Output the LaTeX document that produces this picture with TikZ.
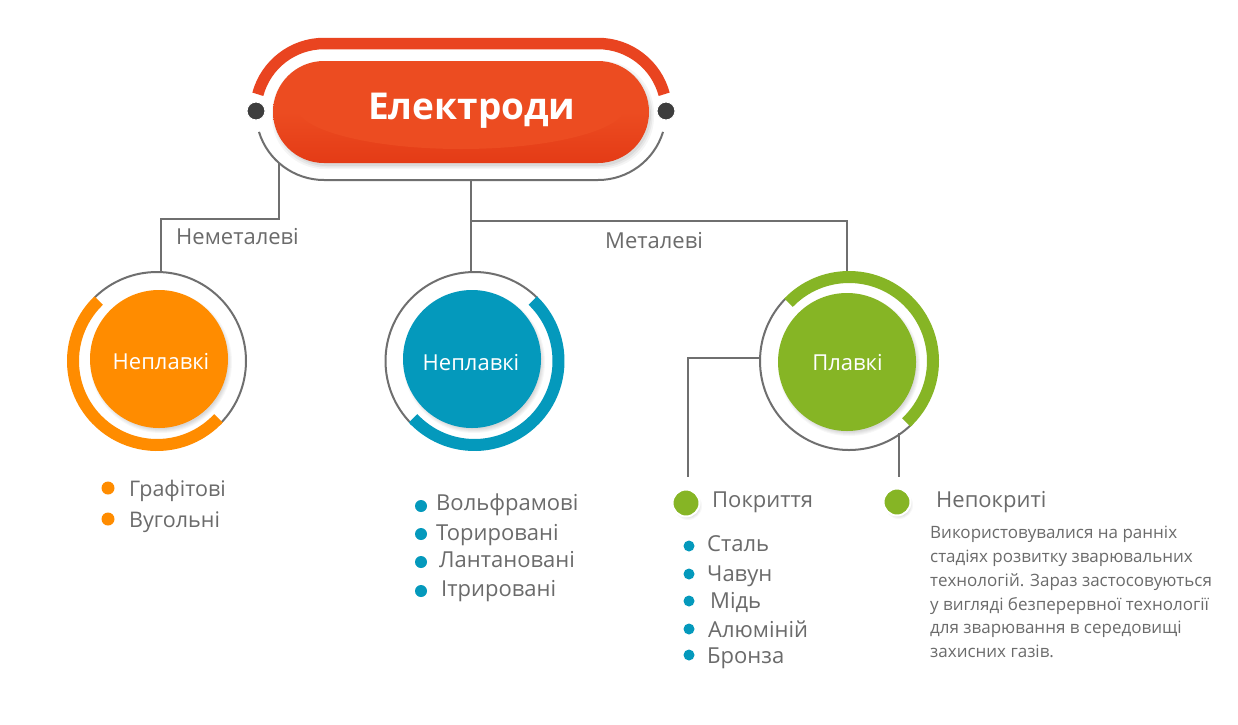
\documentclass[tikz,border=0pt]{standalone}
\usepackage{fontspec}
\setmainfont{Open Sans}
\usetikzlibrary{calc}
\definecolor{cline}{HTML}{6F6F6F}
\definecolor{ctext}{HTML}{6B6B6B}
\definecolor{credA}{HTML}{EC4C21}
\definecolor{credB}{HTML}{E43B16}
\definecolor{cred}{HTML}{E94420}
\definecolor{corange}{HTML}{FF8C00}
\definecolor{cblue}{HTML}{0499BC}
\definecolor{cgreen}{HTML}{86B525}
\definecolor{cdark}{HTML}{3D3D3D}
\tikzset{
  conn/.style={draw=cline,line width=2pt},
  bigdisc/.style={circle,minimum size=138pt,inner sep=0pt},
  disclab/.style={text=white,anchor=base,inner sep=0pt,font=\fontsize{22}{24}\selectfont},
  lab/.style={text=ctext,anchor=base west,inner sep=0pt,font=\fontsize{22}{26}\selectfont},
  bul/.style={circle,fill=cblue,minimum size=12pt,inner sep=0pt},
  bulo/.style={circle,fill=corange,minimum size=13pt,inner sep=0pt},
  greendot/.style={circle,fill=cgreen,draw=white,line width=2pt,minimum size=27pt,inner sep=0pt},
  band/.style={line width=12pt,line cap=butt},
  enddot/.style={circle,fill=cdark,draw=white,line width=1pt,minimum size=18pt,inner sep=0pt},
}
% soft shadow of a disc
\newcommand{\softshadow}[3]{%
  \foreach \k in {1,...,5}{\fill[black,opacity=0.03] ($(#1,#2)+(2pt,-3pt)$) circle[radius=#3pt+\k pt-3pt];}}
\begin{document}
\begin{tikzpicture}[x=1pt,y=-1pt]
\useasboundingbox (0,0) rectangle (1238,724);
\fill[white] (0,0) rectangle (1238,724);

% ---- connectors
\coordinate (pl) at (279,163);
\coordinate (pl2) at (279,219);
\coordinate (pl3) at (161,219);
\coordinate (ta) at (161,272);
\coordinate (pc) at (471,180);
\coordinate (tb) at (471,272);
\coordinate (br) at (471,221);
\coordinate (br2) at (847,221);
\coordinate (tc) at (847,272);
\coordinate (gl) at (760,358);
\coordinate (gl2) at (688,358);
\coordinate (gl3) at (688,477);
\coordinate (gr) at (899,433);
\coordinate (gr2) at (899,477);
\draw[conn] (pl) -- (pl2) -- (pl3) -- (ta);
\draw[conn] (pc) -- (tb);
\draw[conn] (br) -- (br2) -- (tc);
\draw[conn] (gl) -- (gl2) -- (gl3);
\draw[conn] (gr) -- (gr2);

% ---- top pill
\draw[cred,line width=11.5pt]
  ($(324,112)+(165:68.5pt)$) arc[start angle=165,end angle=90,radius=68.5pt]
  -- (598,43.5) arc[start angle=90,end angle=15,radius=68.5pt];
\draw[conn]
  ($(324,112)+(197:68pt)$) arc[start angle=197,end angle=270,radius=68pt]
  -- (598,180) arc[start angle=270,end angle=343,radius=68pt];
\foreach \o/\a in {3/0.04,1.5/0.05,0/0.06}
  \fill[black,opacity=\a,rounded corners=52pt] (273-\o+2,61-\o+3) rectangle (649+\o+2,163+\o+3);
\node[rounded corners=51pt,minimum width=376pt,minimum height=102pt,inner sep=0pt,
      top color=credA,bottom color=credB,middle color=credA] (pill) at (461,112) {};
\begin{scope}
  \clip[rounded corners=51pt] (273,61) rectangle (649,163);
  \fill[credA] (461,106) ellipse[x radius=165pt,y radius=43pt];
\end{scope}
\node[text=white,anchor=base west,inner sep=0pt,font=\fontsize{37}{40}\selectfont\bfseries] (title) at (368,119) {Електроди};
\node[enddot] (dl) at (256,111) {};
\node[enddot] (dr) at (666,111) {};

% ---- labels on branches
\node[lab] (lnm) at (176,244) {Неметалеві};
\node[lab] (lm) at (605,248) {Металеві};

% ---- orange group
\draw[conn] ($(157,361)+(135:89pt)$) arc[start angle=135,end angle=-45,radius=89pt];
\draw[corange,band] ($(157,361)+(134:84pt)$) arc[start angle=134,end angle=317,radius=84pt];
\softshadow{159}{359}{69}
\node[bigdisc,fill=corange] (da) at (159,359) {};
\node[disclab] (tda) at (161,369) {Неплавкі};

% ---- blue group
\draw[conn] ($(474.5,361)+(45:89pt)$) arc[start angle=45,end angle=225,radius=89pt];
\draw[cblue,band] ($(474.5,361)+(46:84pt)$) arc[start angle=46,end angle=-137,radius=84pt];
\softshadow{472}{359}{69}
\node[bigdisc,fill=cblue] (db) at (472,359) {};
\node[disclab] (tdb) at (471,370) {Неплавкі};

% ---- green group
\draw[conn] ($(849,361)+(135:89pt)$) arc[start angle=135,end angle=315,radius=89pt];
\draw[cgreen,band] ($(849,361)+(136:84pt)$) arc[start angle=136,end angle=-47,radius=84pt];
\softshadow{847}{362}{69}
\node[bigdisc,fill=cgreen] (dc) at (847,362) {};
\node[disclab] (tdc) at (847.5,370) {Плавкі};

% ---- lists
\node[bulo] (o1) at (108,488) {}; \node[lab,font=\fontsize{21.5}{26}\selectfont] (to1) at (129,496) {Графітові};
\node[bulo] (o2) at (108,519) {}; \node[lab,font=\fontsize{21.5}{26}\selectfont] (to2) at (129,527) {Вугольні};

\node[bul] (b1) at (421,506) {}; \node[lab] (tb1) at (436,510) {Вольфрамові};
\node[bul] (b2) at (421,534) {}; \node[lab] (tb2) at (436,540) {Торировані};
\node[bul] (b3) at (421,562) {}; \node[lab] (tb3) at (439,567) {Лантановані};
\node[bul] (b4) at (421,591) {}; \node[lab] (tb4) at (441,596) {Ітрировані};

\softshadow{686}{503}{12}
\node[greendot] (g1) at (686,503) {}; \node[lab] (tg1) at (712,507) {Покриття};
\softshadow{897}{502}{12}
\node[greendot] (g2) at (897,502) {}; \node[lab] (tg2) at (936,507) {Непокриті};

\node[bul,minimum size=11pt] (c1) at (689,546) {}; \node[lab] (tc1) at (707,551) {Сталь};
\node[bul,minimum size=11pt] (c2) at (689,574) {}; \node[lab] (tc2) at (707,581) {Чавун};
\node[bul,minimum size=11pt] (c3) at (689,601) {}; \node[lab] (tc3) at (710,608) {Мідь};
\node[bul,minimum size=11pt] (c4) at (689,629) {}; \node[lab] (tc4) at (708,637) {Алюміній};
\node[bul,minimum size=11pt] (c5) at (689,655) {}; \node[lab] (tc5) at (707,663) {Бронза};

\node[anchor=north west,inner sep=0pt,align=left,text=ctext,
      font=\fontsize{17}{23.8}\selectfont] (para) at (930,526)
{Використовувалися на ранніх\\стадіях розвитку зварювальних\\технологій. Зараз застосовуються\\у вигляді безперервної технології\\для зварювання в середовищі\\захисних газів.};
\end{tikzpicture}
\end{document}
